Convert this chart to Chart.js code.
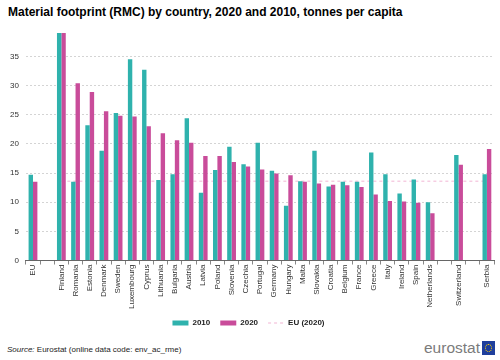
<!DOCTYPE html>
<html>
<head>
<meta charset="utf-8">
<script src="https://cdn.jsdelivr.net/npm/chart.js@4/dist/chart.umd.min.js"></script>
<style>
  html, body { margin: 0; padding: 0; background: #fff; }
  body { width: 500px; height: 360px; position: relative; overflow: hidden; font-family: "Liberation Sans", Arial, sans-serif; }
  #title { position: absolute; left: 8px; top: 5px; font-size: 12px; font-weight: bold; color: #000; white-space: nowrap; }
  #wrap { position: absolute; left: 0; top: 0; width: 500px; height: 337px; }
  #source { position: absolute; left: 7px; top: 345px; font-size: 8px; color: #222; white-space: nowrap; }
  #logo { position: absolute; left: 424px; top: 340px; height: 16px; display: flex; align-items: center; }
  #logo span { font-size: 15.5px; color: #7b7b7b; font-family: "Liberation Sans", Arial, sans-serif; line-height: 16px; }
  #flag { width: 13px; height: 14px; background: #1f3f9c; margin-left: 2px; position: relative; }
  #flag::after { content: ""; position: absolute; left: 3px; top: 3px; width: 5px; height: 6px; border: 1px dotted #ffd200; border-radius: 50%; }
</style>
</head>
<body>
<div id="title">Material footprint (RMC) by country, 2020 and 2010, tonnes per capita</div>
<div id="wrap"><canvas id="c" width="500" height="337"></canvas></div>
<div id="source"><i>Source:</i> Eurostat (online data code: env_ac_rme)</div>
<div id="logo"><span>eurostat</span><div id="flag"></div></div>
<script>
const categories = ["EU", "", "Finland", "Romania", "Estonia", "Denmark", "Sweden", "Luxembourg", "Cyprus", "Lithuania", "Bulgaria", "Austria", "Latvia", "Poland", "Slovenia", "Czechia", "Portugal", "Germany", "Hungary", "Malta", "Slovakia", "Croatia", "Belgium", "France", "Greece", "Italy", "Ireland", "Spain", "Netherlands", " ", "Switzerland", "  ", "Serbia"];
const values2010 = [14.7, null, 39, 13.5, 23.2, 18.8, 25.3, 34.5, 32.7, 13.8, 14.8, 24.4, 11.6, 15.5, 19.5, 16.5, 20.2, 15.4, 9.4, 13.6, 18.8, 12.7, 13.5, 13.5, 18.5, 14.8, 11.5, 13.9, 10.0, null, 18.1, null, 14.8];
const values2020 = [13.5, null, 39, 30.4, 28.9, 25.6, 24.8, 24.7, 23.0, 21.8, 20.6, 20.2, 17.9, 17.9, 16.9, 16.1, 15.6, 14.9, 14.6, 13.5, 13.2, 13.0, 12.9, 12.6, 11.3, 10.2, 10.1, 9.9, 8.1, null, 16.4, null, 19.1];
const euAverage2020 = 13.6;
const yTicks = [0, 5, 10, 15, 20, 25, 30, 35];

const euLine = categories.map((c, i) => i >= 2 ? euAverage2020 : null);
const FONT = '"Liberation Sans", Arial, sans-serif';

const ctx = document.getElementById('c').getContext('2d');
new Chart(ctx, {
  type: 'bar',
  data: {
    labels: categories,
    datasets: [
      { label: '2010', data: values2010, backgroundColor: '#2fb2ad', borderWidth: 0, order: 1, pointStyle: 'rect' },
      { label: '2020', data: values2020, backgroundColor: '#c94c9a', borderWidth: 0, order: 1, pointStyle: 'rect' },
      { type: 'line', label: 'EU (2020)', data: euLine, borderColor: '#f2b5d4', backgroundColor: '#f2b5d4', borderWidth: 1, borderDash: [3, 3], pointRadius: 0, pointHoverRadius: 0, pointStyle: 'line', pointBorderColor: '#f2b5d4', order: 2 }
    ]
  },
  options: {
    responsive: false,
    animation: false,
    layout: { padding: { top: 33, left: 3, right: 6, bottom: 0 } },
    datasets: { bar: { categoryPercentage: 0.62, barPercentage: 1.0 } },
    plugins: {
      tooltip: { enabled: false },
      title: { display: false },
      legend: {
        position: 'bottom',
        labels: {
          usePointStyle: true,
          pointStyleWidth: 16,
          boxHeight: 5,
          padding: 10,
          color: '#222',
          font: { family: FONT, size: 8, weight: 'bold' },
          generateLabels: (chart) => {
            const items = Chart.defaults.plugins.legend.labels.generateLabels(chart);
            items.forEach(it => {
              const ds = chart.data.datasets[it.datasetIndex];
              if (ds.type === 'line') { it.lineDash = ds.borderDash; it.strokeStyle = ds.borderColor; it.lineWidth = 1; }
            });
            return items;
          }
        }
      }
    },
    scales: {
      x: {
        grid: { display: true, drawOnChartArea: false, drawTicks: true, tickLength: 4, color: '#888', offset: true },
        border: { display: true, color: '#666' },
        ticks: {
          minRotation: 90, maxRotation: 90, autoSkip: false, padding: 0,
          color: '#333',
          font: { family: FONT, size: 8 }
        }
      },
      y: {
        min: 0, max: 39,
        afterBuildTicks: (axis) => { axis.ticks = yTicks.map(v => ({ value: v })); },
        grid: { color: '#d4d4d4', drawTicks: false, lineWidth: 1 },
        border: { display: false, dash: [2, 2] },
        ticks: {
          padding: 7,
          color: '#333',
          font: { family: FONT, size: 8 }
        }
      }
    }
  }
});
</script>
</body>
</html>
